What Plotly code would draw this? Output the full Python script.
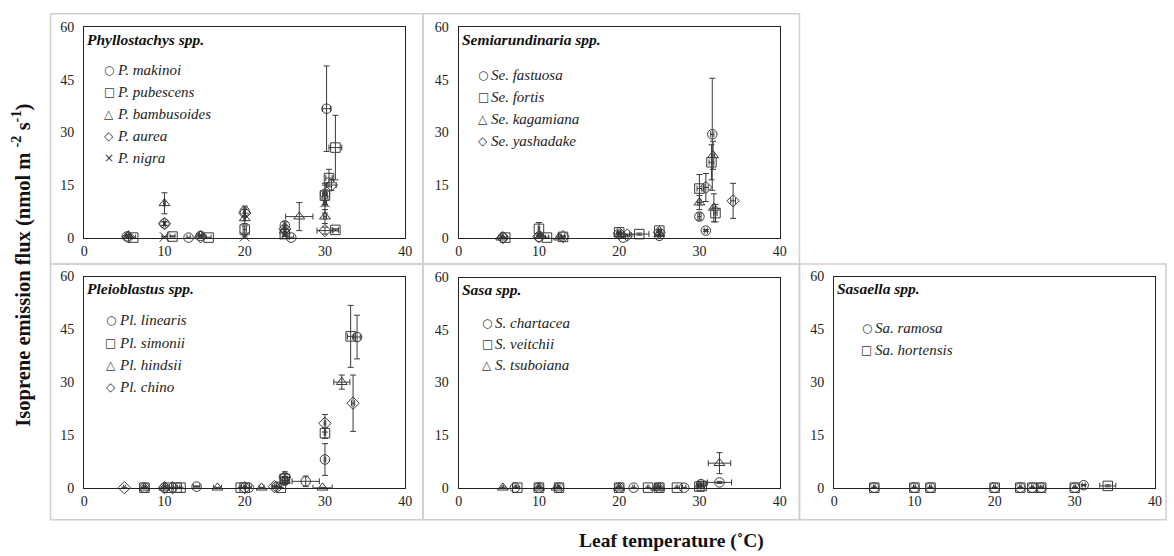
import plotly.graph_objects as go

W, H = 1174, 556

# ---------------- data ----------------
# Phyllostachys spp.
p_makinoi_x = [5.3, 10.0, 13.0, 14.5, 20.0, 25.0, 25.8, 30.0, 30.2]
p_makinoi_y = [0.3, 4.0, 0.0, 0.5, 7.5, 3.5, 0.0, 12.5, 36.8]
p_makinoi_xe = [0.2, 0.1, 0.2, 0.2, 0.1, 0.1, 0.3, 0.2, 0.5]
p_makinoi_ye = [0.2, 0.5, 0.1, 0.3, 1.5, 1.0, 0.1, 3.0, 12.2]

p_pubescens_x = [6.1, 11.0, 15.5, 20.0, 25.0, 30.0, 30.5, 31.3, 31.3]
p_pubescens_y = [0.0, 0.3, 0.0, 2.3, 1.0, 12.0, 17.0, 2.2, 25.7]
p_pubescens_xe = [0.3, 0.3, 0.3, 0.2, 0.2, 0.3, 0.4, 0.4, 0.8]
p_pubescens_ye = [0.1, 0.2, 0.1, 1.0, 0.5, 3.0, 2.5, 0.3, 9.2]

p_bambusoides_x = [5.5, 10.0, 14.5, 20.0, 25.0, 26.8, 30.0]
p_bambusoides_y = [0.5, 9.8, 0.5, 5.5, 2.0, 6.0, 6.0]
p_bambusoides_xe = [0.2, 0.1, 0.2, 0.1, 0.1, 1.7, 0.2]
p_bambusoides_ye = [0.3, 3.0, 0.3, 1.5, 1.0, 4.0, 2.0]

p_aurea_x = [5.5, 10.0, 14.5, 20.0, 25.0, 30.0, 30.8]
p_aurea_y = [0.2, 4.0, 0.2, 7.0, 2.5, 2.0, 15.0]
p_aurea_xe = [0.2, 0.1, 0.2, 0.1, 0.1, 1.0, 0.6]
p_aurea_ye = [0.2, 0.5, 0.2, 1.0, 1.0, 1.0, 1.5]

p_nigra_x = [10.0, 20.0, 25.0, 30.0]
p_nigra_y = [0.2, 0.3, 0.8, 10.0]
p_nigra_xe = [0.3, 0.1, 0.1, 0.2]
p_nigra_ye = [0.1, 0.2, 0.5, 3.0]

# Semiarundinaria spp.
se_fastuosa_x = [5.5, 10.0, 20.5, 25.0, 30.0, 30.8, 31.6]
se_fastuosa_y = [0.0, 0.2, 0.0, 0.5, 6.0, 2.0, 29.5]
se_fastuosa_xe = [0.1, 0.1, 0.3, 0.1, 0.2, 0.2, 0.2]
se_fastuosa_ye = [0.1, 0.2, 0.1, 0.3, 1.0, 0.3, 16.0]

se_fortis_x = [5.8, 10.0, 11.0, 13.0, 20.0, 22.5, 25.0, 30.0, 31.5, 32.0]
se_fortis_y = [0.0, 2.5, 0.0, 0.2, 1.5, 1.0, 2.0, 14.0, 21.5, 7.0]
se_fortis_xe = [0.2, 0.1, 0.2, 0.2, 0.2, 1.2, 0.1, 0.3, 0.3, 0.2]
se_fortis_ye = [0.1, 1.8, 0.1, 0.2, 0.3, 0.3, 0.3, 4.0, 5.0, 2.5]

se_kagamiana_x = [5.3, 10.2, 12.5, 20.0, 25.0, 30.0, 31.7, 31.8]
se_kagamiana_y = [0.0, 0.5, 0.0, 1.0, 1.0, 10.0, 23.5, 8.5]
se_kagamiana_xe = [0.1, 0.1, 0.1, 0.2, 0.1, 0.2, 0.2, 0.2]
se_kagamiana_ye = [0.1, 0.2, 0.1, 0.3, 0.5, 2.0, 4.0, 4.0]

se_yashadake_x = [5.5, 10.0, 13.0, 20.0, 21.0, 25.0, 30.8, 34.2]
se_yashadake_y = [0.0, 0.3, 0.3, 1.2, 0.7, 1.5, 14.3, 10.5]
se_yashadake_xe = [0.1, 0.1, 0.2, 0.2, 0.5, 0.1, 0.3, 0.3]
se_yashadake_ye = [0.1, 0.2, 0.2, 0.3, 0.3, 0.5, 4.0, 5.0]

# Pleioblastus spp.
pl_linearis_x = [7.5, 10.0, 14.0, 20.5, 24.0, 25.0, 27.6, 30.0, 34.0]
pl_linearis_y = [0.0, 0.0, 0.3, 0.0, 0.3, 2.0, 1.8, 8.0, 42.8]
pl_linearis_xe = [0.1, 0.1, 0.4, 0.3, 0.3, 0.5, 1.7, 0.1, 0.4]
pl_linearis_ye = [0.1, 0.1, 0.2, 0.1, 0.2, 1.0, 1.5, 4.5, 6.2]

pl_simonii_x = [7.5, 10.5, 11.5, 12.0, 19.5, 20.0, 24.5, 25.0, 30.0, 33.2]
pl_simonii_y = [0.0, 0.0, 0.0, 0.0, 0.0, 0.0, 0.0, 2.5, 15.5, 43.0]
pl_simonii_xe = [0.1, 0.1, 0.1, 0.1, 0.1, 0.1, 0.1, 0.3, 0.1, 0.4]
pl_simonii_ye = [0.1, 0.1, 0.1, 0.1, 0.1, 0.1, 0.1, 1.5, 1.5, 8.8]

pl_hindsii_x = [7.5, 10.0, 16.6, 22.1, 25.0, 29.7, 32.1]
pl_hindsii_y = [0.0, 0.0, 0.0, 0.0, 2.0, 0.0, 30.0]
pl_hindsii_xe = [0.1, 0.1, 0.5, 0.3, 0.3, 1.2, 1.0]
pl_hindsii_ye = [0.1, 0.1, 0.1, 0.1, 1.0, 0.1, 2.0]

pl_chino_x = [5.0, 10.0, 11.0, 20.0, 23.7, 25.0, 30.0, 33.5]
pl_chino_y = [0.0, 0.0, 0.0, 0.0, 0.3, 3.0, 18.3, 24.0]
pl_chino_xe = [0.1, 0.1, 0.1, 0.1, 0.3, 0.6, 0.1, 0.2]
pl_chino_ye = [0.1, 0.1, 0.1, 0.1, 0.2, 1.5, 2.5, 8.0]

# Sasa spp.
s_chartacea_x = [7.0, 10.0, 12.5, 20.0, 21.8, 25.0, 28.1, 30.2, 32.5]
s_chartacea_y = [0.0, 0.0, 0.0, 0.0, 0.0, 0.0, 0.0, 1.0, 1.5]
s_chartacea_xe = [0.1, 0.1, 0.1, 0.1, 0.1, 0.1, 0.2, 0.3, 1.5]
s_chartacea_ye = [0.1, 0.1, 0.1, 0.1, 0.1, 0.1, 0.1, 0.3, 0.3]

s_veitchii_x = [7.3, 10.0, 12.5, 20.0, 23.6, 25.0, 27.2, 30.0, 30.3]
s_veitchii_y = [0.0, 0.0, 0.0, 0.0, 0.0, 0.0, 0.0, 0.3, 0.5]
s_veitchii_xe = [0.1, 0.1, 0.1, 0.1, 0.1, 0.1, 0.1, 0.2, 0.2]
s_veitchii_ye = [0.1, 0.1, 0.1, 0.1, 0.1, 0.1, 0.1, 0.2, 0.2]

s_tsuboiana_x = [5.5, 10.0, 12.2, 20.0, 24.6, 25.0, 30.0, 32.5]
s_tsuboiana_y = [0.0, 0.0, 0.0, 0.0, 0.0, 0.0, 0.5, 7.0]
s_tsuboiana_xe = [0.1, 0.1, 0.1, 0.1, 0.1, 0.1, 0.2, 1.4]
s_tsuboiana_ye = [0.1, 0.1, 0.1, 0.1, 0.1, 0.1, 0.3, 3.0]

# Sasaella spp.
sa_ramosa_x = [5.0, 10.0, 12.0, 20.0, 23.2, 24.7, 25.8, 30.0, 31.1]
sa_ramosa_y = [0.0, 0.0, 0.0, 0.0, 0.0, 0.0, 0.0, 0.0, 0.7]
sa_ramosa_xe = [0.1, 0.1, 0.1, 0.1, 0.1, 0.1, 0.3, 0.1, 0.2]
sa_ramosa_ye = [0.1, 0.1, 0.1, 0.1, 0.1, 0.1, 0.1, 0.1, 0.2]

sa_hortensis_x = [5.0, 10.0, 12.0, 20.0, 23.2, 24.7, 25.8, 30.0, 34.1]
sa_hortensis_y = [0.0, 0.0, 0.0, 0.0, 0.0, 0.0, 0.0, 0.0, 0.5]
sa_hortensis_xe = [0.1, 0.1, 0.1, 0.1, 0.1, 0.1, 0.1, 0.1, 1.0]
sa_hortensis_ye = [0.1, 0.1, 0.1, 0.1, 0.1, 0.1, 0.1, 0.1, 0.3]

x_ticks = [0, 10, 20, 30, 40]
y_ticks = [0, 15, 30, 45, 60]

panel_titles = ["Phyllostachys spp.", "Semiarundinaria spp.", "Pleioblastus spp.",
                "Sasa spp.", "Sasaella spp."]

SYM = {"circle": ("circle-open", "○"), "square": ("square-open", "□"),
       "triangle": ("triangle-up-open", "△"), "diamond": ("diamond-open", "◇"),
       "x": ("x-thin-open", "×")}

panels = [
    [("P. makinoi", "circle", p_makinoi_x, p_makinoi_y, p_makinoi_xe, p_makinoi_ye),
     ("P. pubescens", "square", p_pubescens_x, p_pubescens_y, p_pubescens_xe, p_pubescens_ye),
     ("P. bambusoides", "triangle", p_bambusoides_x, p_bambusoides_y, p_bambusoides_xe, p_bambusoides_ye),
     ("P. aurea", "diamond", p_aurea_x, p_aurea_y, p_aurea_xe, p_aurea_ye),
     ("P. nigra", "x", p_nigra_x, p_nigra_y, p_nigra_xe, p_nigra_ye)],
    [("Se. fastuosa", "circle", se_fastuosa_x, se_fastuosa_y, se_fastuosa_xe, se_fastuosa_ye),
     ("Se. fortis", "square", se_fortis_x, se_fortis_y, se_fortis_xe, se_fortis_ye),
     ("Se. kagamiana", "triangle", se_kagamiana_x, se_kagamiana_y, se_kagamiana_xe, se_kagamiana_ye),
     ("Se. yashadake", "diamond", se_yashadake_x, se_yashadake_y, se_yashadake_xe, se_yashadake_ye)],
    [("Pl. linearis", "circle", pl_linearis_x, pl_linearis_y, pl_linearis_xe, pl_linearis_ye),
     ("Pl. simonii", "square", pl_simonii_x, pl_simonii_y, pl_simonii_xe, pl_simonii_ye),
     ("Pl. hindsii", "triangle", pl_hindsii_x, pl_hindsii_y, pl_hindsii_xe, pl_hindsii_ye),
     ("Pl. chino", "diamond", pl_chino_x, pl_chino_y, pl_chino_xe, pl_chino_ye)],
    [("S. chartacea", "circle", s_chartacea_x, s_chartacea_y, s_chartacea_xe, s_chartacea_ye),
     ("S. veitchii", "square", s_veitchii_x, s_veitchii_y, s_veitchii_xe, s_veitchii_ye),
     ("S. tsuboiana", "triangle", s_tsuboiana_x, s_tsuboiana_y, s_tsuboiana_xe, s_tsuboiana_ye)],
    [("Sa. ramosa", "circle", sa_ramosa_x, sa_ramosa_y, sa_ramosa_xe, sa_ramosa_ye),
     ("Sa. hortensis", "square", sa_hortensis_x, sa_hortensis_y, sa_hortensis_xe, sa_hortensis_ye)],
]

# plot-area pixel boxes (left, right, top, bottom)
boxes = [(81, 405, 21, 237), (459, 783, 21, 237),
         (81, 405, 277, 494), (459, 783, 278, 494), (838, 1162, 277, 494)]
# legend layout: (symbol x px, first row y px, row step)
legend_pos = [(106, 65, 22.5), (484, 70, 22.5), (108, 322, 23), (488, 325, 21.5), (871, 330, 22)]
# grey cell rectangles (x0, x1, y0, y1) in px
cells = [(47, 423, 7, 264), (423, 803, 7, 264), (47, 423, 264, 527),
         (423, 803, 264, 527), (803, 1173, 264, 527)]

FONT = "Liberation Serif"
INK = "#3a3a3a"

fig = go.Figure()
layout = {}
annotations = []
shapes = []

for i, (series, box) in enumerate(zip(panels, boxes)):
    n = "" if i == 0 else str(i + 1)
    l, r, t, b = box
    xd = [l / W, r / W]
    yd = [1 - b / H, 1 - t / H]
    for name, sym, xs, ys, xe, ye in series:
        fig.add_trace(go.Scatter(
            x=xs, y=ys, mode="markers", name=name, showlegend=False,
            xaxis="x" + n, yaxis="y" + n, cliponaxis=False,
            marker=dict(symbol=SYM[sym][0], size=9.5, color=INK, line=dict(width=1, color=INK)),
            error_x=dict(type="data", array=xe, color=INK, thickness=1, width=3),
            error_y=dict(type="data", array=ye, color=INK, thickness=1, width=3),
        ))
    layout["xaxis" + n] = dict(domain=xd, range=[0, 40], anchor="y" + n,
                               tickvals=x_ticks, showgrid=False, zeroline=False,
                               showline=True, linecolor="#222", linewidth=1.3, mirror=True,
                               ticks="", tickfont=dict(family=FONT, size=14, color="#222"))
    layout["yaxis" + n] = dict(domain=yd, range=[0, 60], anchor="x" + n,
                               tickvals=y_ticks, showgrid=False, zeroline=False,
                               showline=True, linecolor="#222", linewidth=1.3, mirror=True,
                               ticks="", ticklabelstandoff=6,
                               tickfont=dict(family=FONT, size=14, color="#222"))
    # panel title
    annotations.append(dict(text="<b><i>%s</i></b>" % panel_titles[i], xref="paper", yref="paper",
                            x=(l + 1) / W, y=1 - (t + 12) / H, xanchor="left", yanchor="middle",
                            showarrow=False, font=dict(family=FONT, size=15.5, color="#111")))
    # legend
    sx, sy, step = legend_pos[i]
    for k, (name, sym, *_rest) in enumerate(series):
        yy = 1 - (sy + k * step) / H
        annotations.append(dict(text=SYM[sym][1], xref="paper", yref="paper",
                                x=sx / W, y=yy, xanchor="center", yanchor="middle",
                                showarrow=False, font=dict(family="DejaVu Sans", size=12, color=INK)))
        annotations.append(dict(text="<i>%s</i>" % name, xref="paper", yref="paper",
                                x=(sx + 6) / W, y=yy, xanchor="left", yanchor="middle",
                                showarrow=False, font=dict(family=FONT, size=15, color="#222")))

for x0, x1, y0, y1 in cells:
    shapes.append(dict(type="rect", xref="paper", yref="paper",
                       x0=x0 / W, x1=x1 / W, y0=1 - y1 / H, y1=1 - y0 / H,
                       line=dict(color="#cfcfcf", width=1.5), fillcolor="rgba(0,0,0,0)", layer="below"))

annotations.append(dict(text="<b>Isoprene emission flux (nmol m <sup>-2</sup> s<sup>-1</sup>)</b>",
                        xref="paper", yref="paper", x=18 / W, y=1 - 265 / H, textangle=-90,
                        xanchor="center", yanchor="middle", showarrow=False,
                        font=dict(family=FONT, size=20.5, color="#111")))
annotations.append(dict(text="<b>Leaf temperature (˚C)</b>", xref="paper", yref="paper",
                        x=674 / W, y=1 - 549 / H, xanchor="center", yanchor="middle",
                        showarrow=False, font=dict(family=FONT, size=19.5, color="#111")))

fig.update_layout(width=W, height=H, margin=dict(l=0, r=0, t=0, b=0), autosize=False,
                  paper_bgcolor="white", plot_bgcolor="white",
                  annotations=annotations, shapes=shapes, **layout)

fig.write_html("out.html", config={"responsive": False, "displayModeBar": False},
               post_script="document.body.style.margin='0';document.body.style.overflow='hidden';")
